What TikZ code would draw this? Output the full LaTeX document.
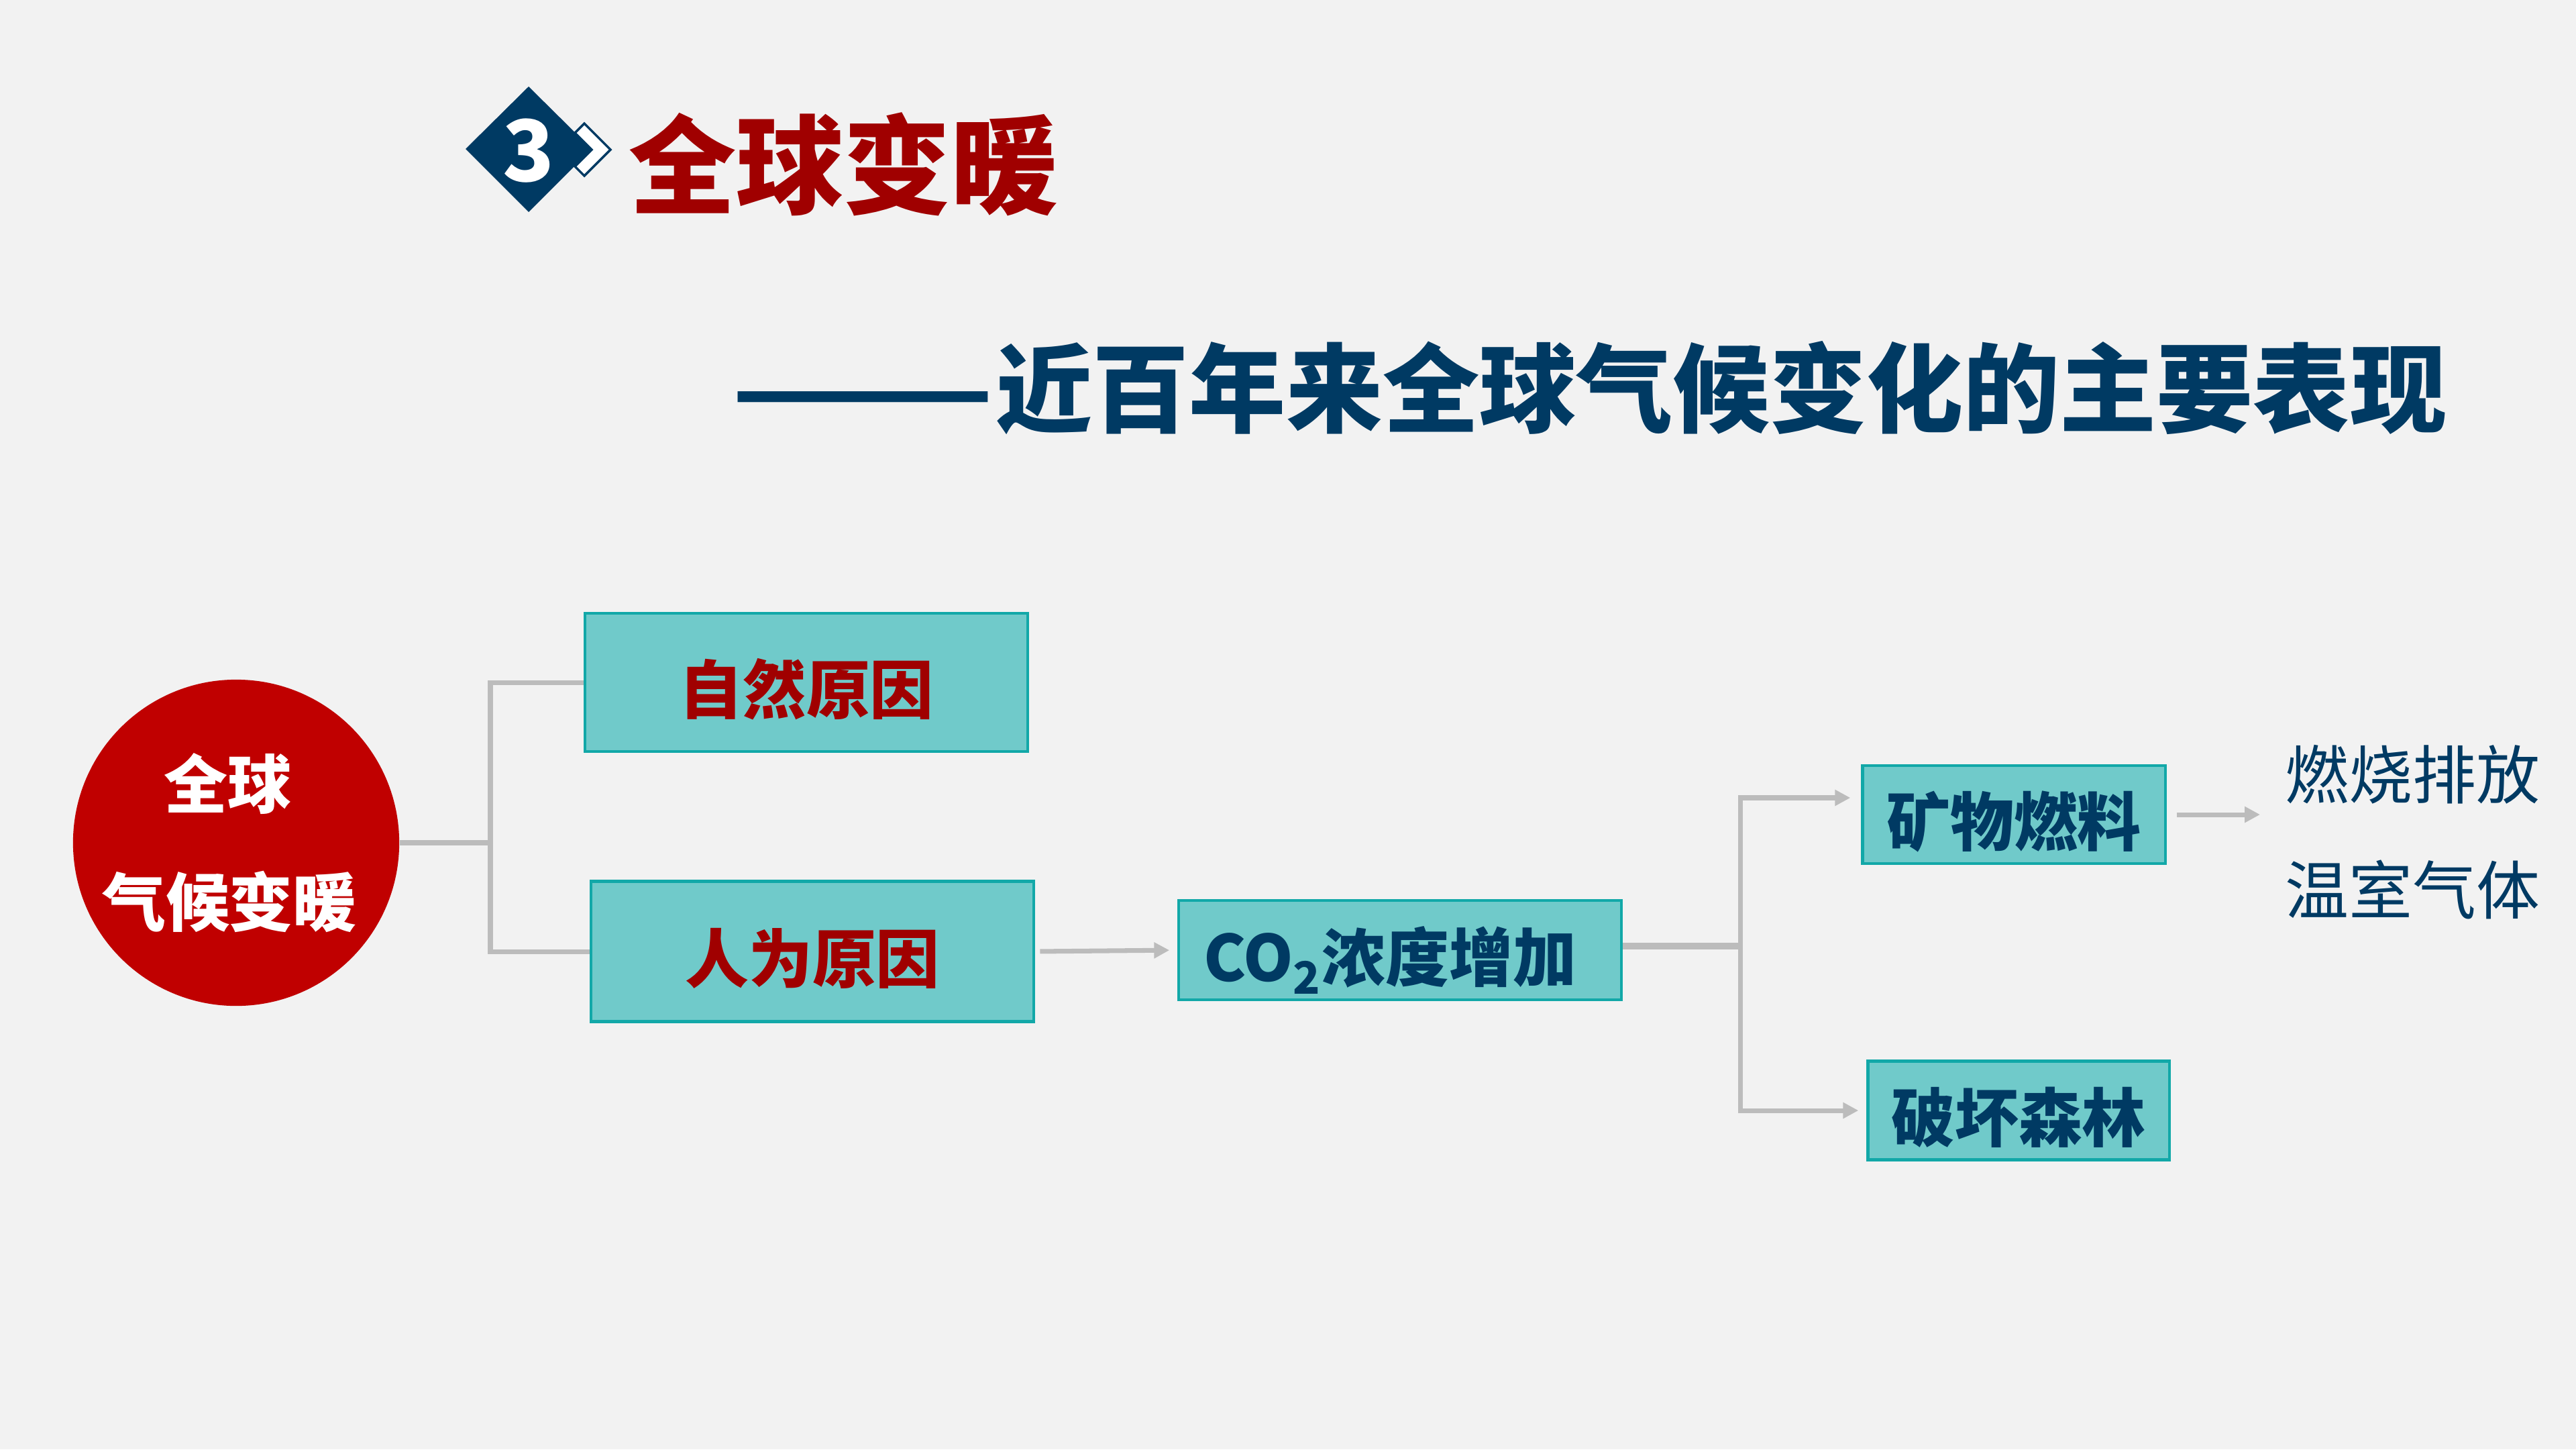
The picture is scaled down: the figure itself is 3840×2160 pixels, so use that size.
\documentclass[tikz,border=0pt]{standalone}
\usepackage{fontspec}
\usepackage{graphicx}
\newfontfamily\cjk{Noto Sans CJK SC}
\usetikzlibrary{arrows.meta,calc}
\definecolor{bgc}{HTML}{F2F2F2}
\definecolor{tealf}{HTML}{70CACA}
\definecolor{tealb}{HTML}{12A8A8}
\definecolor{cred}{HTML}{C00000}
\definecolor{tred}{HTML}{A00000}
\definecolor{dblue}{HTML}{003A63}
\definecolor{grayc}{HTML}{BCBCBC}
\begin{document}
\begin{tikzpicture}[x=0.01cm,y=-0.01cm,
  stepbox/.style={draw=tealb, line width=1.2pt, fill=tealf, inner sep=0pt,
    text height=29.5pt, text depth=3pt,
    font=\cjk\bfseries\fontsize{27}{32}\selectfont},
  conn/.style={draw=grayc, line width=2pt},
  arr/.style={conn, -{Triangle[length=6.5pt,width=6.5pt]}}]
\fill[bgc] (0,0) rectangle (3840,2160);
\useasboundingbox (0,0) rectangle (3840,2160);

% header
\fill[dblue] (694,222) -- (788,129) -- (882,222) -- (788,316) -- cycle;
\filldraw[fill=white, draw=dblue, line width=1pt] (871,184) -- (910,223) -- (871,262) -- (857,248) -- (882,223) -- (857,198) -- cycle;
\node[font=\cjk\bfseries\fontsize{36}{40}\selectfont, text=white, inner sep=0] (n3) at (788,225) {3};
\node[font=\cjk\bfseries\fontsize{45.5}{50}\selectfont, text=tred, inner sep=0] (title) at (1257,245) {全球变暖};
\node[font=\cjk\bfseries\fontsize{41}{50}\selectfont, text=dblue, inner sep=0] (sub) at (2368,578) {\scalebox{1.6}[1]{——}近百年来全球气候变化的主要表现};

% circle
\node[circle, fill=cred, minimum size=4.86cm, inner sep=0pt, align=center,
  font=\cjk\bfseries\fontsize{27}{50}\selectfont, text=white] (c) at (352,1256) {全球\hspace*{0.25cm}\\气候变暖\hspace*{0.2cm}};

% boxes
\node[stepbox, minimum width=6.59cm, minimum height=2.06cm, text=tred] (b1) at (1202,1017) {自然原因};
\node[stepbox, minimum width=6.60cm, minimum height=2.09cm, text=tred] (b2) at (1211,1418) {人为原因};
\node[stepbox, minimum width=6.59cm, minimum height=1.48cm, text=dblue] (co2) at (2087,1416) {CO\textsubscript{2}浓度增加\hspace*{0.3cm}};
\node[stepbox, minimum width=4.51cm, minimum height=1.46cm, text=dblue] (m1) at (3002,1214) {矿物燃料};
\node[stepbox, minimum width=4.49cm, minimum height=1.47cm, text=dblue] (m2) at (3009,1655) {破坏森林};
\node[anchor=west, align=left, inner sep=0pt, font=\cjk\fontsize{27}{49}\selectfont, text=dblue] (t) at (3406,1240) {燃烧排放\\温室气体};

% connectors
\coordinate (j1) at (731,1256);
\draw[conn, line width=2.4pt] (c.east) -- (j1);
\draw[conn] (b1.west) -| (j1) |- (b2.west);
\draw[arr, shorten <=0.07cm, shorten >=0.12cm] (b2.east) -- (co2.west);
\coordinate (j2) at (2594,1410);
\draw[conn, line width=3pt] (co2.east |- j2) -- (j2);
\draw[arr, shorten >=0.16cm] (j2) |- ([yshift=0.25cm]m1.west);
\draw[arr, shorten >=0.12cm] (j2) |- (m2.west);
\draw[arr, shorten <=0.15cm, shorten >=0.37cm] (m1.east) -- (m1.east -| t.west);
\end{tikzpicture}
\end{document}
